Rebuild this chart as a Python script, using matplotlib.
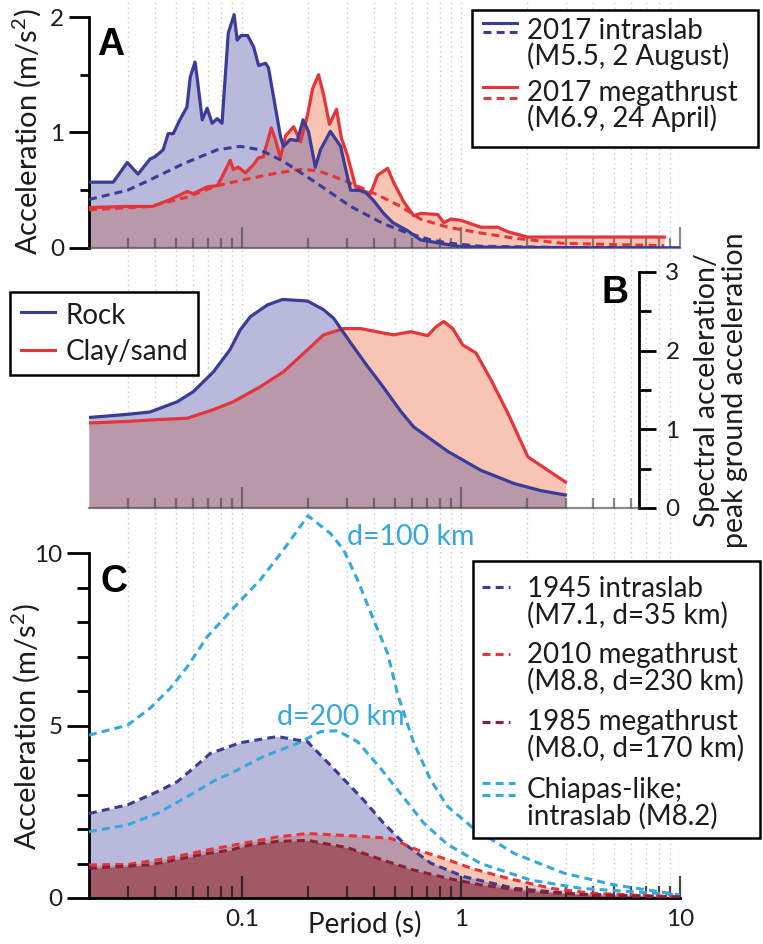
'''Response spectra figure: 2017 records (A), site amplification (B), scenarios (C).'''

import matplotlib.pyplot as plt
from matplotlib.lines import Line2D
from matplotlib.patches import Rectangle
from matplotlib.ticker import FixedLocator, FixedFormatter, NullFormatter

# ---- values (period in s) ----

# A: 2017 records, acceleration (m/s2)
a_intra_T = [0.020, 0.0258, 0.0299, 0.0335, 0.038, 0.040, 0.0436, 0.046, 0.0485, 0.052,
             0.056, 0.058, 0.061, 0.0624, 0.0658, 0.0693, 0.073, 0.077, 0.081, 0.0865,
             0.092, 0.095, 0.099, 0.106, 0.113, 0.119, 0.128, 0.132, 0.141, 0.150,
             0.1545, 0.166, 0.179, 0.190, 0.201, 0.216, 0.228, 0.253, 0.282, 0.291,
             0.313, 0.341, 0.367, 0.399, 0.443, 0.488, 0.570, 0.654, 0.727, 0.898,
             0.997, 1.52, 4.36, 10.0]
a_intra = [0.57, 0.57, 0.74, 0.64, 0.77, 0.79, 0.85, 0.99, 0.99, 1.11,
           1.22, 1.48, 1.61, 1.47, 1.11, 1.21, 1.08, 1.12, 1.08, 1.86,
           2.02, 1.80, 1.84, 1.84, 1.74, 1.58, 1.60, 1.56, 1.25, 0.96,
           0.88, 0.94, 0.93, 1.11, 1.01, 0.70, 0.85, 1.01, 0.88, 0.76,
           0.50, 0.50, 0.48, 0.41, 0.30, 0.22, 0.15, 0.07, 0.055, 0.026,
           0.012, 0.005, 0.002, 0.002]

a_mega_T = [0.020, 0.030, 0.039, 0.047, 0.0562, 0.0598, 0.0693, 0.0771, 0.0812, 0.0883,
            0.0912, 0.0962, 0.1035, 0.1127, 0.1187, 0.125, 0.136, 0.142, 0.1497, 0.158,
            0.172, 0.185, 0.199, 0.210, 0.2235, 0.2355, 0.2508, 0.270, 0.2845, 0.303,
            0.330, 0.355, 0.386, 0.416, 0.462, 0.492, 0.547, 0.608, 0.654, 0.783,
            0.834, 0.898, 0.997, 1.23, 1.47, 1.64, 2.02, 8.47]
a_mega = [0.35, 0.36, 0.36, 0.42, 0.49, 0.47, 0.53, 0.54, 0.62, 0.76,
          0.68, 0.70, 0.65, 0.72, 0.78, 0.79, 1.04, 0.94, 0.78, 0.97,
          1.05, 0.92, 1.15, 1.38, 1.50, 1.33, 1.07, 1.20, 0.95, 0.80,
          0.53, 0.50, 0.47, 0.63, 0.69, 0.57, 0.40, 0.28, 0.30, 0.29,
          0.22, 0.25, 0.24, 0.18, 0.18, 0.14, 0.095, 0.095]

a_intra_gm_T = [0.020, 0.030, 0.038, 0.054, 0.077, 0.098, 0.121, 0.1545, 0.216, 0.313,
                0.443, 0.570, 0.727, 0.898, 1.23, 3.0, 8.0]
a_intra_gm = [0.42, 0.50, 0.59, 0.73, 0.85, 0.88, 0.85, 0.75, 0.57, 0.36,
              0.21, 0.13, 0.07, 0.04, 0.015, 0.004, 0.002]

a_mega_gm_T = [0.020, 0.038, 0.056, 0.077, 0.1014, 0.145, 0.185, 0.221, 0.262, 0.323,
               0.416, 0.530, 0.654, 0.869, 1.23, 1.75, 2.95, 5.0, 8.47]
a_mega_gm = [0.33, 0.36, 0.44, 0.54, 0.59, 0.65, 0.68, 0.67, 0.62, 0.55,
             0.46, 0.36, 0.25, 0.18, 0.13, 0.085, 0.04, 0.03, 0.02]

# B: spectral acceleration / PGA
b_rock_T = [0.020, 0.030, 0.038, 0.0506, 0.060, 0.074, 0.088, 0.098, 0.109, 0.1305,
            0.153, 0.199, 0.2355, 0.262, 0.313, 0.374, 0.430, 0.530, 0.608, 0.869,
            1.23, 1.75, 2.32, 3.0]
b_rock = [1.15, 1.19, 1.22, 1.35, 1.48, 1.73, 2.01, 2.26, 2.43, 2.58,
          2.65, 2.63, 2.52, 2.41, 2.10, 1.80, 1.58, 1.23, 1.03, 0.72,
          0.48, 0.31, 0.22, 0.165]

b_clay_T = [0.020, 0.030, 0.039, 0.0562, 0.074, 0.0912, 0.121, 0.1545, 0.199, 0.2355,
            0.291, 0.348, 0.430, 0.492, 0.589, 0.705, 0.767, 0.834, 0.916, 1.02,
            1.17, 1.37, 1.64, 2.02, 2.49, 3.0]
b_clay = [1.08, 1.10, 1.12, 1.14, 1.25, 1.35, 1.54, 1.73, 2.01, 2.20,
          2.28, 2.28, 2.23, 2.20, 2.24, 2.19, 2.30, 2.37, 2.28, 2.07,
          1.97, 1.63, 1.20, 0.65, 0.48, 0.33]

# C: scenario spectra, acceleration (m/s2)
c_1945_T = [0.020, 0.030, 0.041, 0.0506, 0.0624, 0.0716, 0.098, 0.145, 0.199, 0.253,
            0.359, 0.443, 0.547, 0.727, 1.03, 1.75, 3.28, 10.0]
c_1945 = [2.45, 2.70, 3.08, 3.37, 3.86, 4.19, 4.50, 4.68, 4.53, 3.85,
          2.84, 2.17, 1.59, 1.01, 0.62, 0.28, 0.12, 0.03]

c_2010_T = [0.020, 0.030, 0.0455, 0.0693, 0.098, 0.145, 0.199, 0.303, 0.477, 0.634,
            0.807, 1.14, 1.64, 2.58, 3.93, 10.0]
c_2010 = [0.96, 0.97, 1.15, 1.39, 1.57, 1.77, 1.87, 1.81, 1.73, 1.39,
          1.18, 0.84, 0.57, 0.28, 0.14, 0.03]

c_1985_T = [0.020, 0.038, 0.0693, 0.0883, 0.109, 0.145, 0.199, 0.303, 0.430, 0.608,
            0.869, 1.23, 2.0, 4.0, 10.0]
c_1985 = [0.86, 0.96, 1.29, 1.39, 1.54, 1.64, 1.67, 1.46, 1.12, 0.81,
          0.57, 0.38, 0.20, 0.08, 0.02]

c_d100_T = [0.020, 0.030, 0.038, 0.047, 0.0562, 0.0693, 0.0912, 0.121, 0.1545, 0.200,
            0.253, 0.291, 0.337, 0.399, 0.462, 0.514, 0.608, 0.727, 0.869, 1.14,
            1.75, 2.95, 5.0, 10.0]
c_d100 = [4.72, 5.01, 5.50, 6.08, 6.70, 7.57, 8.40, 9.22, 10.09, 11.08,
          10.57, 10.09, 9.22, 8.06, 7.09, 5.90, 4.50, 3.42, 2.65, 2.02,
          1.29, 0.72, 0.38, 0.09]

c_d200_T = [0.020, 0.030, 0.041, 0.0562, 0.0771, 0.0883, 0.125, 0.179, 0.228, 0.273,
            0.337, 0.430, 0.514, 0.676, 0.869, 1.23, 2.08, 3.53, 10.0]
c_d200 = [1.92, 2.12, 2.45, 2.94, 3.45, 3.60, 4.10, 4.48, 4.82, 4.85,
          4.53, 3.75, 3.13, 2.17, 1.55, 1.00, 0.52, 0.28, 0.09]

legend_a = [('2017 intraslab', '(M5.5, 2 August)'),
            ('2017 megathrust', '(M6.9, 24 April)')]
legend_b = ['Rock', 'Clay/sand']
legend_c = [('1945 intraslab', '(M7.1, d=35 km)'),
            ('2010 megathrust', '(M8.8, d=230 km)'),
            ('1985 megathrust', '(M8.0, d=170 km)'),
            ('Chiapas-like;', 'intraslab (M8.2)')]

major_T = [0.1, 1, 10]
minor_T = [k * 10.0 ** e for e in (-2, -1, 0) for k in range(2, 10)][1:]

# ---- styling ----
BLUE = '#3b3b98'
RED = '#e5343a'
DARKRED = '#8c1f33'
CYAN = '#36a8dc'
LAV = '#b9b9db'
SALMON = '#f8c5b5'
MAUVE = '#b998aa'
MAROON = '#a25966'
GRID = '#c8c8c8'
TICKGRAY = (0.25, 0.25, 0.25, 0.6)
TXT = '#1c1c1c'
DASH = (0, (2.6, 1.7))
FS = 20
TICKFS = 17.5

plt.rcParams['font.family'] = ['Lato', 'DejaVu Sans']
plt.rcParams['mathtext.fontset'] = 'custom'
plt.rcParams['mathtext.rm'] = 'Lato'
plt.rcParams['text.color'] = TXT

W, H = 763, 944
LEFT, RIGHT = 89, 680

fig = plt.figure(figsize=(W / 100, H / 100), dpi=100)


def fx(px):
    return px / W


def fy(py):
    return 1 - py / H


def make_axes(bottom_px, px_per_unit, ytop, zorder):
    '''Axes sharing the log period scale, placed by pixel position.'''
    height = px_per_unit * ytop
    ax = fig.add_axes([fx(LEFT), fy(bottom_px), (RIGHT - LEFT) / W, height / H], zorder=zorder)
    ax.set_xscale('log')
    ax.set_xlim(0.02, 10)
    ax.set_ylim(0, ytop)
    ax.patch.set_alpha(0)
    ax.xaxis.set_major_locator(FixedLocator(major_T))
    ax.xaxis.set_minor_locator(FixedLocator(minor_T))
    ax.xaxis.set_minor_formatter(NullFormatter())
    return ax


def fill_pair(ax, x1, y1, x2, y2):
    '''Two filled spectra, with their overlap in a mixed colour.'''
    f1 = ax.fill_between(x1, y1, color=LAV, lw=0, zorder=1)
    ax.fill_between(x2, y2, color=SALMON, lw=0, zorder=1)
    ov = ax.fill_between(x2, y2, color=MAUVE, lw=0, zorder=1.2)
    ov.set_clip_path(f1.get_paths()[0], ax.transData)


def box(x0, y0, x1, y1):
    fig.add_artist(Rectangle((fx(x0), fy(y1)), fx(x1) - fx(x0), fy(y0) - fy(y1),
                             transform=fig.transFigure, facecolor='white',
                             edgecolor='black', lw=1.8, zorder=10))


def handle(x0, x1, y, color, ls='-'):
    fig.add_artist(Line2D([fx(x0), fx(x1)], [fy(y), fy(y)], transform=fig.transFigure,
                          color=color, lw=2.2, ls=ls, zorder=11))


def label(x, y, s, **kw):
    fig.text(fx(x), fy(y), s, fontsize=FS, va='baseline', ha='left', zorder=11, **kw)


# ---- dotted period grid running through all panels ----
bg = fig.add_axes([fx(LEFT), fy(898), (RIGHT - LEFT) / W, 898 / H], zorder=0)
bg.set_xscale('log')
bg.set_xlim(0.02, 10)
bg.xaxis.set_major_locator(FixedLocator(major_T))
bg.xaxis.set_minor_locator(FixedLocator(minor_T))
bg.grid(which='both', axis='x', color=GRID, lw=1.0, ls=(0, (1, 2.5)))
bg.tick_params(which='both', length=0, labelbottom=False, labelleft=False)
bg.set_yticks([])
for s in bg.spines.values():
    s.set_visible(False)

# ---- panel A ----
axA = make_axes(248, 115.5, 2.1, 2)
fill_pair(axA, a_intra_T, a_intra, a_mega_T, a_mega)
axA.plot(a_intra_T, a_intra, color=BLUE, lw=2.3, zorder=4)
axA.plot(a_mega_T, a_mega, color=RED, lw=2.3, zorder=3)
axA.plot(a_intra_gm_T, a_intra_gm, color=BLUE, lw=2.2, ls=DASH, zorder=4)
axA.plot(a_mega_gm_T, a_mega_gm, color=RED, lw=2.2, ls=DASH, zorder=3)

axA.spines[['top', 'right']].set_visible(False)
axA.spines['bottom'].set_color(TICKGRAY)
axA.spines['bottom'].set_linewidth(1.6)
axA.spines['left'].set_linewidth(2.0)
axA.spines['left'].set_bounds(0, 2)
axA.set_yticks([0, 1, 2])
axA.yaxis.set_minor_locator(FixedLocator([0.5, 1.5]))
axA.tick_params(axis='x', which='major', direction='in', length=15, width=1.6,
                color=TICKGRAY, labelbottom=False)
axA.tick_params(axis='x', which='minor', direction='in', length=7.5, width=1.6,
                color=TICKGRAY)
axA.tick_params(axis='y', which='major', direction='out', length=14.5, width=2,
                pad=3.5, labelsize=TICKFS, labelcolor=TXT)
axA.tick_params(axis='y', which='minor', direction='out', length=6.5, width=2)

# ---- panel B ----
axB = make_axes(508, 78.7, 3.1, 3)
fill_pair(axB, b_rock_T, b_rock, b_clay_T, b_clay)
axB.plot(b_rock_T, b_rock, color=BLUE, lw=2.3, zorder=4)
axB.plot(b_clay_T, b_clay, color=RED, lw=2.3, zorder=3)

axB.spines[['top', 'left']].set_visible(False)
axB.spines['bottom'].set_color(TICKGRAY)
axB.spines['bottom'].set_linewidth(1.6)
axB.spines['bottom'].set_bounds(0.02, 6.5)
axB.spines['right'].set_position(('data', 6.5))
axB.spines['right'].set_linewidth(2.0)
axB.spines['right'].set_bounds(0, 3)
axB.xaxis.set_major_locator(FixedLocator([t for t in major_T if t < 6.5]))
axB.xaxis.set_minor_locator(FixedLocator([t for t in minor_T if t < 6.5]))
axB.yaxis.tick_right()
axB.set_yticks([0, 1, 2, 3])
axB.yaxis.set_minor_locator(FixedLocator([0.5, 1.5, 2.5]))
axB.tick_params(axis='x', which='major', direction='in', length=15, width=1.6,
                color=TICKGRAY, labelbottom=False)
axB.tick_params(axis='x', which='minor', direction='in', length=7.5, width=1.6,
                color=TICKGRAY)
axB.tick_params(axis='y', which='major', direction='out', length=12, width=2,
                pad=7, labelsize=TICKFS, labelcolor=TXT)
axB.tick_params(axis='y', which='minor', direction='out', length=8.5, width=2)

# ---- panel C ----
axC = make_axes(898, 34.5, 11.35, 4)
f45 = axC.fill_between(c_1945_T, c_1945, color=LAV, lw=0, zorder=1)
axC.fill_between(c_2010_T, c_2010, color=SALMON, lw=0, zorder=1)
ov = axC.fill_between(c_2010_T, c_2010, color=MAUVE, lw=0, zorder=1.2)
ov.set_clip_path(f45.get_paths()[0], axC.transData)
axC.fill_between(c_1985_T, c_1985, color=MAROON, lw=0, zorder=1.4)

axC.plot(c_d100_T, c_d100, color=CYAN, lw=2.2, ls=DASH, zorder=3)
axC.plot(c_d200_T, c_d200, color=CYAN, lw=2.2, ls=DASH, zorder=3)
axC.plot(c_1945_T, c_1945, color=BLUE, lw=2.2, ls=DASH, zorder=4)
axC.plot(c_2010_T, c_2010, color=RED, lw=2.2, ls=DASH, zorder=4)
axC.plot(c_1985_T, c_1985, color=DARKRED, lw=2.2, ls=DASH, zorder=4)
axC.text(0.303, 10.23, 'd=100 km', color=CYAN, fontsize=20.5, va='baseline', ha='left')
axC.text(0.145, 5.01, 'd=200 km', color=CYAN, fontsize=20.5, va='baseline', ha='left')

axC.spines[['top', 'right']].set_visible(False)
axC.spines['bottom'].set_linewidth(2.0)
axC.spines['left'].set_linewidth(2.0)
axC.spines['left'].set_bounds(0, 10)
axC.xaxis.set_major_formatter(FixedFormatter(['0.1', '1', '10']))
axC.set_yticks([0, 5, 10])
axC.yaxis.set_minor_locator(FixedLocator([1, 2, 3, 4, 6, 7, 8, 9]))
axC.tick_params(axis='x', which='major', direction='in', length=16, width=1.6,
                color=(0.1, 0.1, 0.1, 0.8), pad=8, labelsize=TICKFS, labelcolor=TXT)
axC.tick_params(axis='x', which='minor', direction='in', length=8.5, width=1.6,
                color=(0.1, 0.1, 0.1, 0.8))
axC.tick_params(axis='y', which='major', direction='out', length=16, width=2,
                pad=3, labelsize=TICKFS, labelcolor=TXT)
axC.tick_params(axis='y', which='minor', direction='out', length=9, width=2)

# ---- axis titles and panel letters ----
ylab = 'Acceleration (m/s$^{2}$)'
fig.text(fx(27), fy(132), ylab, rotation=90, ha='center', va='center', fontsize=21)
fig.text(fx(26), fy(727), ylab, rotation=90, ha='center', va='center', fontsize=21)
fig.text(fx(721), fy(390), 'Spectral acceleration/\npeak ground acceleration',
         rotation=90, ha='center', va='center', fontsize=20.5, linespacing=1.12,
         multialignment='center')
fig.text(fx(308), fy(933), 'Period (s)', ha='left', va='baseline', fontsize=20)

for letter, x, y in [('A', 97, 55), ('B', 602, 303), ('C', 100, 592)]:
    fig.text(fx(x), fy(y), letter, fontsize=27, fontweight='bold',
             family='Liberation Sans', va='baseline', ha='left', color='black', zorder=12)

# ---- legends, drawn by hand to keep the reference layout ----
box(472, 10, 758, 147)
handle(483, 517, 23, BLUE)
handle(483, 517, 32, BLUE, DASH)
handle(483, 517, 87, RED)
handle(483, 517, 98, RED, DASH)
for (l1, l2), y in zip(legend_a, [39, 101]):
    label(527, y, l1)
    label(527, y + 26, l2)

box(10, 292, 198, 375)
handle(21, 55, 312, BLUE)
handle(21, 55, 350, RED)
label(66, 324, legend_b[0])
label(66, 360, legend_b[1])

box(473, 561, 760, 838)
handle(482, 510, 587, BLUE, DASH)
handle(482, 510, 654, RED, DASH)
handle(482, 510, 722, DARKRED, DASH)
handle(482, 515, 783, CYAN, DASH)
handle(482, 515, 795, CYAN, DASH)
for (l1, l2), y in zip(legend_c, [597, 663, 730, 798]):
    label(527, y, l1)
    label(527, y + 27, l2)

fig.savefig('out.png', dpi=100)
